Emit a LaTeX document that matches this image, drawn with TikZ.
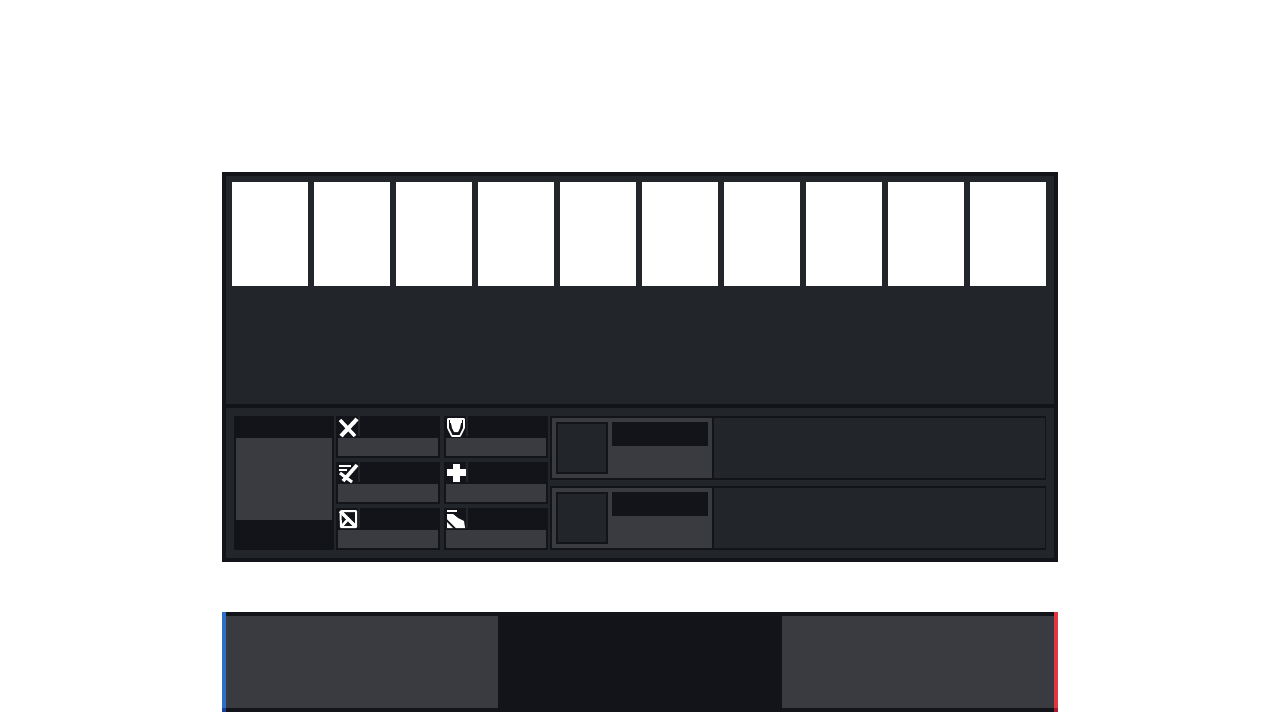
\documentclass[tikz,border=0pt]{standalone}
\definecolor{ink}{HTML}{12141A}
\definecolor{panel}{HTML}{22252A}
\definecolor{steel}{HTML}{3A3B40}
\definecolor{bluebar}{HTML}{2A6FC9}
\definecolor{bluedeep}{HTML}{1E3F96}
\definecolor{redbar}{HTML}{DF3640}
\definecolor{reddeep}{HTML}{A81C30}
\newcommand{\Bx}[5]{\fill[#1] (#2,#3) rectangle (#4,#5);}
\newcommand{\Slot}[2]{%
  \Bx{ink}{#1}{#2}{#1+104}{#2+42}
  \Bx{panel}{#1+22}{#2}{#1+24}{#2+20}
  \Bx{steel}{#1+2}{#2+22}{#1+102}{#2+40}
}
\newcommand{\Row}[1]{%
  \Bx{ink}{550}{#1}{1046}{#1+64}
  \Bx{steel}{552}{#1+2}{712}{#1+62}
  \Bx{panel}{714}{#1+2}{1045}{#1+62}
  \Bx{ink}{556}{#1+6}{608}{#1+58}
  \Bx{panel}{558}{#1+8}{606}{#1+56}
  \Bx{ink}{612}{#1+6}{708}{#1+30}
}
\begin{document}
\begin{tikzpicture}[x=1pt,y=-1pt]
\useasboundingbox (0,0) rectangle (1280,720);
\Bx{white}{0}{0}{1280}{720}
% main panel
\Bx{ink}{222}{172}{1058}{562}
\Bx{panel}{226}{176}{1054}{558}
\foreach \i in {0,...,9}{\Bx{white}{232+82*\i}{182}{308+82*\i}{286}}
\Bx{ink}{226}{404}{1054}{408}
% portrait
\Bx{ink}{234}{416}{334}{550}
\Bx{steel}{236}{438}{332}{520}
% stat slots
\Slot{336}{416}\Slot{336}{462}\Slot{336}{508}
\Slot{444}{416}\Slot{444}{462}\Slot{444}{508}
% rows
\Row{416}\Row{486}
% icons
\begin{scope}[white,line cap=butt,line join=round]
 % crossed swords
 \draw[line width=3.4pt] (340,420) -- (355,436);
 \draw[line width=4pt] (357,419) -- (341,436);
 % sword with lines
 \draw[line width=2pt] (339,465.5) -- (351,465.5) (339,469.5) -- (347,469.5);
 \draw[line width=3pt] (340,473) -- (352,482);
 \draw[line width=3.6pt] (357,465) -- (343,481);
 % bow
 \draw[line width=2pt] (343,511) -- (356,511) -- (356,527) -- (341,527) -- (340.5,514) -- cycle;
 \draw[line width=3.4pt] (340,511) -- (356,527);
 \draw[line width=2.6pt] (349,518) -- (342,526);
 % shield
 \draw[line width=1.6pt] (448,419) -- (464,419) -- (464,428) -- (460,436) -- (452,436) -- (448,428) -- cycle;
 \fill (450,420) rectangle (462,423);
 \fill (451,423) -- (461,423) -- (460,428) -- (458,432) -- (454,432) -- (452,428) -- cycle;
 % plus
 \fill (453,464) rectangle (460,482);
 \fill (447,469) rectangle (466,476);
 % boot
 \fill (447,510) rectangle (457,512);
 \fill (447,514) -- (453,514) -- (458,518) -- (464,521) -- (465,528) -- (456,528) -- (447,519) -- cycle;
 \fill (447,522) -- (453,528) -- (447,528) -- cycle;
\end{scope}
% bottom bar
\Bx{ink}{222}{612}{1058}{712}
\Bx{steel}{226}{616}{498}{708}
\Bx{steel}{782}{616}{1054}{708}
\Bx{bluebar}{222}{612}{226}{708}
\Bx{bluedeep}{222}{708}{226}{712}
\Bx{redbar}{1054}{612}{1058}{708}
\Bx{reddeep}{1054}{708}{1058}{712}
\end{tikzpicture}
\end{document}
